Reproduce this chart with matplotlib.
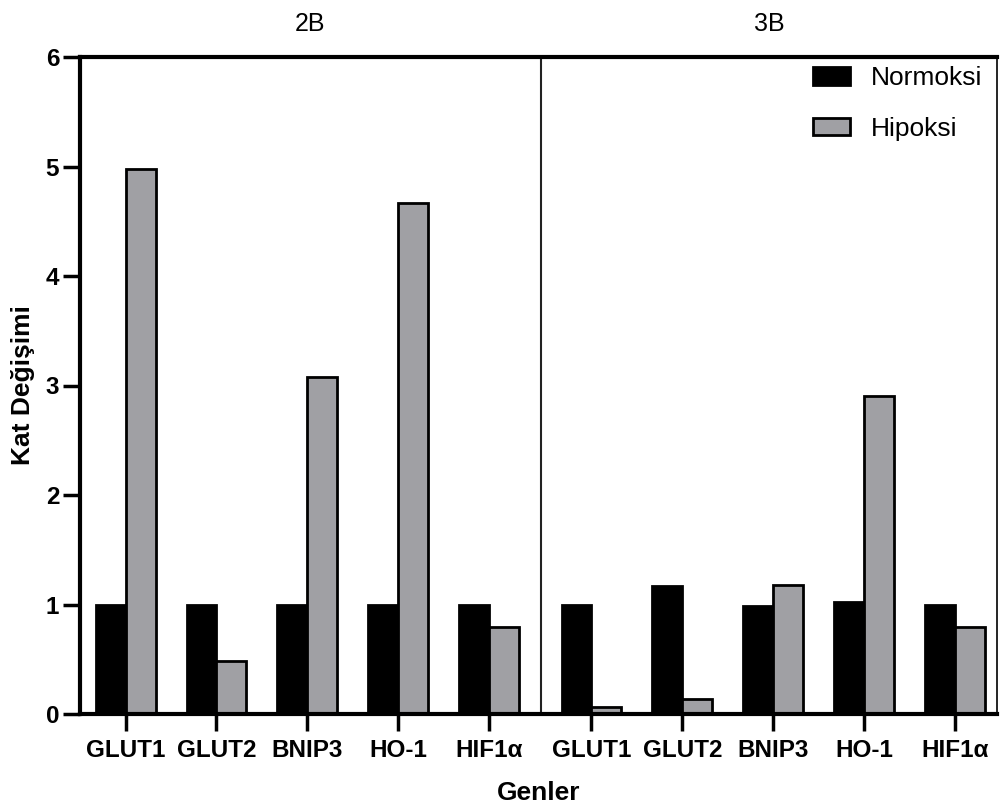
import numpy as np
import matplotlib.pyplot as plt

plt.rcParams['font.family'] = ['Liberation Sans', 'DejaVu Sans']

genes = ["GLUT1", "GLUT2", "BNIP3", "HO-1", "HIF1α"]
panels = ["2B", "3B"]

normoksi_2b = [1.0, 1.0, 1.0, 1.0, 1.0]
hipoksi_2b = [4.98, 0.48, 3.08, 4.67, 0.79]
normoksi_3b = [1.0, 1.17, 0.99, 1.02, 1.0]
hipoksi_3b = [0.06, 0.14, 1.18, 2.90, 0.79]

black = "#000000"
grey = "#a0a0a4"

fig = plt.figure(figsize=(10.01, 8.09), dpi=100)
ax = fig.add_axes([80 / 1001, 1 - 714 / 809, 917 / 1001, 657 / 809])

shift = 5.13
x_left = np.arange(len(genes))
x_right = x_left + shift
w = 0.33

ax.bar(x_left - w / 2, normoksi_2b, w, color=black, edgecolor=black, lw=2, label="Normoksi")
ax.bar(x_left + w / 2, hipoksi_2b, w, color=grey, edgecolor=black, lw=2, label="Hipoksi")
ax.bar(x_right - w / 2, normoksi_3b, w, color=black, edgecolor=black, lw=2)
ax.bar(x_right + w / 2, hipoksi_3b, w, color=grey, edgecolor=black, lw=2)

xmin, xmax = -0.503, 9.596
divider = 4.574
ax.set_xlim(xmin, xmax)
ax.set_ylim(0, 6)
ax.axvline(divider, color="#222222", lw=1.5)

ax.set_xticks(list(x_left) + list(x_right))
ax.set_xticklabels(genes + genes, fontsize=17.5, fontweight="bold")
ax.set_yticks(range(0, 7))
ax.set_yticklabels([str(v) for v in range(0, 7)], fontsize=17.5, fontweight="bold")
ax.tick_params(axis="both", direction="out", length=12, width=2.5, color="black")
ax.tick_params(axis="x", pad=6)
ax.tick_params(axis="y", pad=3)

for side in ["left", "bottom", "top"]:
    ax.spines[side].set_linewidth(3)
ax.spines["right"].set_linewidth(1.2)

ax.set_xlabel("Genler", fontsize=19, fontweight="bold", labelpad=14)
ax.set_ylabel("Kat Değişimi", fontsize=19, fontweight="bold", labelpad=8)

ax.text((xmin + divider) / 2, 1.05, panels[0], transform=ax.get_xaxis_transform(),
        ha="center", va="center", fontsize=18)
ax.text((divider + xmax) / 2, 1.05, panels[1], transform=ax.get_xaxis_transform(),
        ha="center", va="center", fontsize=18)

leg = ax.legend(loc="upper right", frameon=False, fontsize=19, handlelength=1.4,
                handleheight=0.65, handletextpad=0.8, labelspacing=1.0,
                bbox_to_anchor=(0.994, 1.0), borderaxespad=0.15, borderpad=0.2)
for h in leg.legend_handles:
    h.set_linewidth(2)

fig.savefig("out.png", dpi=100)
